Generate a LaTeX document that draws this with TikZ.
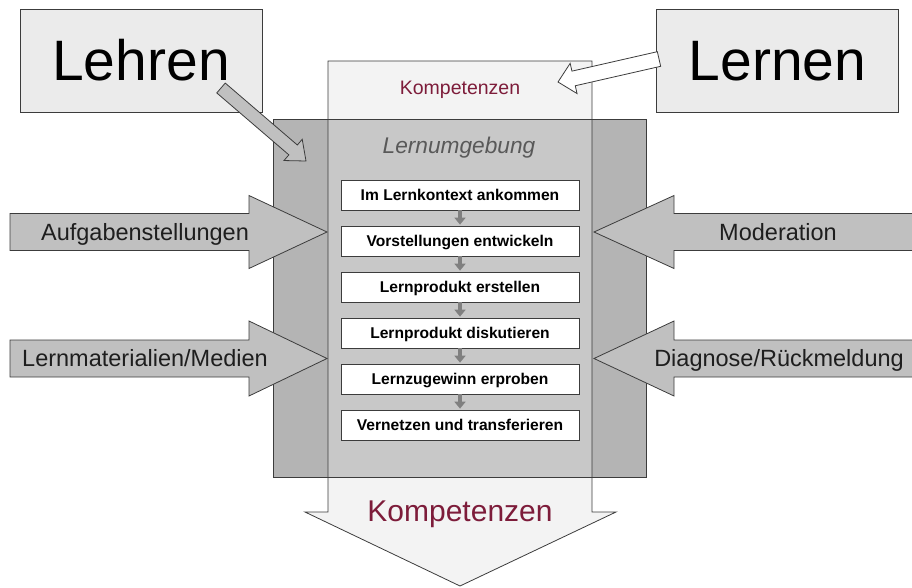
\documentclass[tikz,border=0pt]{standalone}
\usepackage{fontspec}
\setmainfont{Liberation Sans}
\usetikzlibrary{calc,arrows.meta}
\definecolor{kompred}{RGB}{125,28,58}
\definecolor{edgegray}{RGB}{60,60,60}
\definecolor{panelfill}{RGB}{235,235,235}
\definecolor{envfill}{RGB}{180,180,180}
\definecolor{envinner}{RGB}{200,200,200}
\definecolor{bigfill}{RGB}{243,243,243}
\definecolor{sidefill}{RGB}{192,192,192}
\definecolor{labelgray}{RGB}{89,89,89}
\definecolor{stepgray}{RGB}{128,128,128}
\definecolor{textdark}{RGB}{30,30,30}
\newcommand{\blockarr}[6]{%
  \coordinate (hb) at ($(#3)!#6!(#2)$);
  \draw[#1] ($(#2)!#4!90:(#3)$) -- ($(hb)!#4!90:(#3)$) -- ($(hb)!#5!90:(#3)$) -- (#3)
    -- ($(hb)!#5!-90:(#3)$) -- ($(hb)!#4!-90:(#3)$) -- ($(#2)!#4!-90:(#3)$) -- cycle;}
\begin{document}
\begin{tikzpicture}[x=1pt,y=-1pt,
  outline/.style={draw=edgegray, line width=0.8pt},
  panel/.style={outline, fill=panelfill, minimum width=242pt, minimum height=103pt,
     inner sep=0pt, text height=41pt, text depth=0pt, font=\fontsize{57}{60}\selectfont},
  stepbox/.style={draw=edgegray, line width=0.7pt, fill=white, minimum width=238pt,
     minimum height=30pt, inner sep=0pt, text height=11.2pt, text depth=0pt,
     font=\fontsize{15.6}{17}\selectfont\bfseries},
  steparrow/.style={draw=stepgray, line width=4pt, -{Triangle[width=11pt,length=7pt]}, shorten >=1pt},
  sidearrow/.style={outline, fill=sidefill},
  sidelabel/.style={inner sep=0pt, text height=16.8pt, text depth=0pt, text=textdark,
     font=\fontsize{23.5}{26}\selectfont},
  ]
\useasboundingbox (0,0) rectangle (912,588);

% big Kompetenzen arrow (fill)
\coordinate (bTL) at (328,61);
\coordinate (bTR) at (592,61);
\coordinate (bR) at (592,512);
\coordinate (bRH) at (616,512);
\coordinate (bTip) at (460,586);
\coordinate (bLH) at (305,512);
\coordinate (bL) at (328,512);
\fill[bigfill] (bTL) -- (bTR) -- (bR) -- (bRH) -- (bTip) -- (bLH) -- (bL) -- cycle;

% Lernumgebung
\node[fill=envfill, minimum width=372pt, minimum height=357pt, inner sep=0pt] (env) at (460,298.5) {};
\fill[envinner] (328,120) rectangle (592,477);
\draw[outline] (env.north west) rectangle (env.south east);

% big arrow outline
\draw[outline] (bTL) -- (bTR) -- (bR) -- (bRH) -- (bTip) -- (bLH) -- (bL) -- cycle;

% texts in the big arrow
\node[inner sep=0pt, text height=13.6pt, text depth=0pt, text=kompred,
  font=\fontsize{19.5}{22}\selectfont] (ktop) at (460,88) {Kompetenzen};
\node[inner sep=0pt, text height=16.3pt, text depth=0pt, text=labelgray,
  font=\fontsize{22.7}{25}\selectfont\itshape] (lu) at (459,145) {Lernumgebung};
\node[inner sep=0pt, text height=21.5pt, text depth=0pt, text=kompred,
  font=\fontsize{30}{33}\selectfont] (kbot) at (460,510.5) {Kompetenzen};

% steps
\node[stepbox] (s1) at (460,195) {Im Lernkontext ankommen};
\node[stepbox] (s2) at (460,241) {Vorstellungen entwickeln};
\node[stepbox] (s3) at (460,287) {Lernprodukt erstellen};
\node[stepbox] (s4) at (460,333) {Lernprodukt diskutieren};
\node[stepbox] (s5) at (460,379) {Lernzugewinn erproben};
\node[stepbox] (s6) at (460,425) {Vernetzen und transferieren};
\foreach \a/\b in {s1/s2,s2/s3,s3/s4,s4/s5,s5/s6}
  \draw[steparrow] (\a.south) -- (\b.north);

% side arrows
\coordinate (aufTail) at (10,232);   \coordinate (aufTip) at (327,232);
\coordinate (medTail) at (10,358.5); \coordinate (medTip) at (327,358.5);
\coordinate (modTail) at (912.5,232);   \coordinate (modTip) at (594,232);
\coordinate (diaTail) at (912.5,358.5); \coordinate (diaTip) at (594,358.5);
\blockarr{sidearrow}{aufTail}{aufTip}{18.5pt}{36.5pt}{78pt}
\blockarr{sidearrow}{medTail}{medTip}{18.5pt}{37.5pt}{78pt}
\blockarr{sidearrow}{modTail}{modTip}{18.5pt}{36.5pt}{80pt}
\blockarr{sidearrow}{diaTail}{diaTip}{18.5pt}{37.5pt}{80pt}
\node[sidelabel] (auf) at (145,232) {Aufgabenstellungen};
\node[sidelabel] (med) at (145,358) {Lernmaterialien/Medien};
\node[sidelabel] (mod) at (778,232) {Moderation};
\node[sidelabel] (dia) at (779,358) {Diagnose/Rückmeldung};

% Lehren / Lernen
\node[panel] (lehren) at (141,60.5) {Lehren};
\node[panel] (lernen) at (777.5,60.5) {Lernen};
\coordinate (lhTail) at (221,88);  \coordinate (lhTip) at (306,161);
\coordinate (lnTail) at (659,59);  \coordinate (lnTip) at (558,82);
\blockarr{outline, fill=sidefill}{lhTail}{lhTip}{6.5pt}{14pt}{17pt}
\blockarr{outline, fill=white}{lnTail}{lnTip}{7.5pt}{15.5pt}{16pt}
\end{tikzpicture}
\end{document}
